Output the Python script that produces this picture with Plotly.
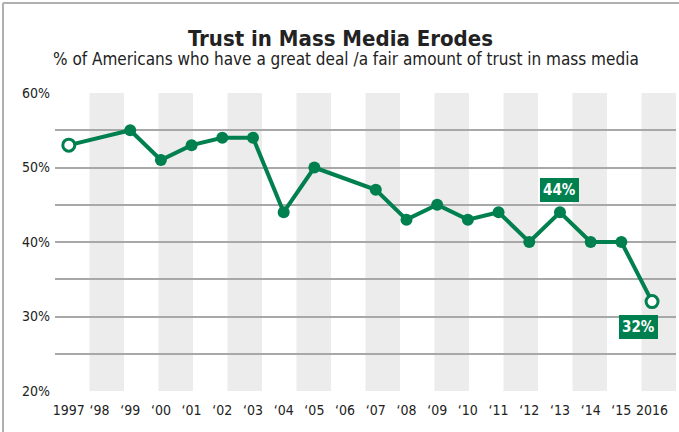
import plotly.graph_objects as go

years = [1997, 1999, 2000, 2001, 2002, 2003, 2004, 2005, 2007, 2008,
         2009, 2010, 2011, 2012, 2013, 2014, 2015, 2016]
trust = [53, 55, 51, 53, 54, 54, 44, 50, 47, 43,
         45, 43, 44, 40, 44, 40, 40, 32]
tick_years = list(range(1997, 2017))
tick_labels = ["1997"] + ["\u2018" + str(y)[2:] for y in range(1998, 2016)] + ["2016"]
y_ticks = [20, 30, 40, 50, 60]
y_labels = ["20%", "30%", "40%", "50%", "60%"]
callouts = [(2013, 44, "44%", 0, 22), (2016, 32, "32%", -14, -25)]

GREEN = "#007F4F"
FONT = "DejaVu Sans Condensed, Liberation Sans Narrow, Arial Narrow, sans-serif"

W, H = 679, 432
ML, MR, MT, MB = 55, 3, 93, 41
PW, PH = W - ML - MR, H - MT - MB

fig = go.Figure()

fig.add_trace(go.Scatter(
    x=years, y=trust, mode="lines",
    line=dict(color=GREEN, width=4), hoverinfo="skip", showlegend=False))

mid_x = years[1:-1]
mid_y = trust[1:-1]
fig.add_trace(go.Scatter(
    x=mid_x, y=mid_y, mode="markers",
    marker=dict(color=GREEN, size=12, line=dict(width=0)), showlegend=False))
fig.add_trace(go.Scatter(
    x=[years[0], years[-1]], y=[trust[0], trust[-1]], mode="markers",
    marker=dict(color="white", size=12, line=dict(color=GREEN, width=3)),
    showlegend=False))

shapes = []
for k in range(9):
    shapes.append(dict(type="rect", xref="x domain", yref="y domain",
                       x0=(2 * k + 1) / 18, x1=(2 * k + 2) / 18, y0=0, y1=1,
                       fillcolor="#ececec", line=dict(width=0), layer="below"))
# outer frame (top and left)
shapes.append(dict(type="line", xref="paper", yref="paper",
                   x0=(3 - ML) / PW, x1=(W - ML) / PW,
                   y0=(H - 3 - MB) / PH, y1=(H - 3 - MB) / PH,
                   line=dict(color="#b0b0b0", width=2)))
shapes.append(dict(type="line", xref="paper", yref="paper",
                   x0=(3 - ML) / PW, x1=(3 - ML) / PW,
                   y0=(H - 3 - MB) / PH, y1=-MB / PH,
                   line=dict(color="#b0b0b0", width=2)))

annotations = []
for x, y, t, xs, ys in callouts:
    annotations.append(dict(x=x, y=y, xref="x", yref="y", text="<b>" + t + "</b>",
                            showarrow=False, xshift=xs, yshift=ys,
                            font=dict(color="white", size=15, family=FONT),
                            bgcolor=GREEN, borderpad=1,
                            bordercolor=GREEN, borderwidth=2))
annotations.append(dict(x=(340 - ML) / PW, xref="paper", y=(H - 39 - MB) / PH, yref="paper",
                        text="<b>Trust in Mass Media Erodes</b>", showarrow=False,
                        font=dict(size=22, color="#222222", family=FONT),
                        xanchor="center", yanchor="middle"))
annotations.append(dict(x=(346 - ML) / PW, xref="paper", y=(H - 59 - MB) / PH, yref="paper",
                        text="% of Americans who have a great deal /a fair amount of trust in mass media",
                        showarrow=False,
                        font=dict(size=17, color="#222222", family=FONT),
                        xanchor="center", yanchor="middle"))

fig.update_layout(
    width=W, height=H,
    margin=dict(l=ML, r=MR, t=MT, b=MB),
    paper_bgcolor="white", plot_bgcolor="white",
    shapes=shapes, annotations=annotations,
    xaxis=dict(range=[1996.55, 2016.78], tickvals=tick_years, ticktext=tick_labels,
               showgrid=False, zeroline=False, showline=False, ticks="",
               ticklabelstandoff=9,
               tickfont=dict(size=14, color="#222222", family=FONT)),
    yaxis=dict(range=[20, 60], tickvals=y_ticks, ticktext=y_labels,
               showgrid=True, gridcolor="#a8a8a8", gridwidth=1.5,
               zeroline=False, showline=False, ticks="", ticklabelstandoff=4,
               tickfont=dict(size=14, color="#222222", family=FONT),
               minor=dict(tickvals=[25, 35, 45, 55], showgrid=True,
                          gridcolor="#a8a8a8", gridwidth=1.5)),
)

fig.write_html("out.html", config={"displayModeBar": False},
               post_script="document.body.style.margin='0';document.body.style.padding='0';")
